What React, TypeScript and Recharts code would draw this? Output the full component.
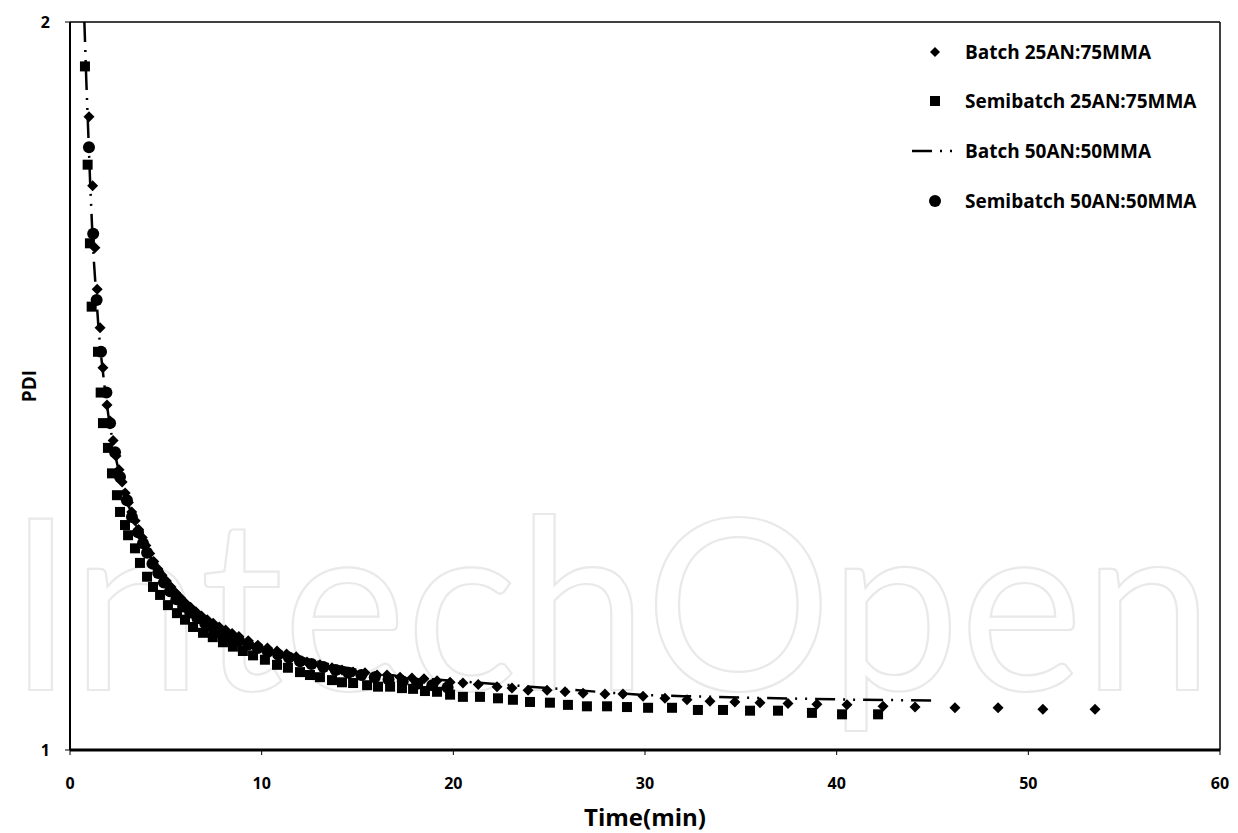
import React from 'react';
import { ComposedChart, Scatter, XAxis, YAxis, ReferenceLine, Legend, Label } from 'recharts';

const FONT = '"Open Sans", Lato, sans-serif';

// Batch 25AN:75MMA (diamonds)
const batch25X = [0.99, 1.18, 1.30, 1.42, 1.57, 1.72, 1.93, 2.09, 2.25, 2.40, 2.56, 2.72, 2.88, 3.05, 3.22, 3.40, 3.58, 3.77, 3.96, 4.16, 4.37, 4.58, 4.80, 5.03, 5.27, 5.51, 5.76, 6.02, 6.29, 6.57, 6.86, 7.16, 7.47, 7.79, 8.12, 8.46, 8.81, 9.30, 9.80, 10.30, 10.80, 11.30, 11.80, 12.37, 13.04, 13.67, 14.19, 14.77, 15.39, 16.02, 16.54, 17.22, 17.84, 18.47, 19.15, 19.83, 20.50, 21.30, 22.28, 23.06, 23.90, 24.89, 25.83, 26.77, 27.91, 28.85, 29.90, 31.04, 32.19, 33.39, 34.69, 36.00, 37.46, 38.97, 40.54, 42.42, 44.09, 46.17, 48.42, 50.76, 53.48];
const batch25Y = [1.870, 1.775, 1.690, 1.633, 1.580, 1.525, 1.474, 1.452, 1.425, 1.404, 1.385, 1.368, 1.353, 1.340, 1.327, 1.315, 1.303, 1.292, 1.281, 1.270, 1.259, 1.249, 1.240, 1.232, 1.224, 1.216, 1.209, 1.202, 1.196, 1.190, 1.184, 1.179, 1.174, 1.169, 1.165, 1.160, 1.156, 1.150, 1.144, 1.140, 1.136, 1.132, 1.128, 1.121, 1.117, 1.113, 1.110, 1.107, 1.106, 1.103, 1.103, 1.100, 1.099, 1.098, 1.095, 1.093, 1.092, 1.090, 1.087, 1.085, 1.082, 1.082, 1.080, 1.078, 1.077, 1.077, 1.074, 1.071, 1.069, 1.067, 1.066, 1.065, 1.064, 1.063, 1.062, 1.060, 1.059, 1.058, 1.058, 1.056, 1.056];

// Semibatch 25AN:75MMA (squares)
const semi25X = [0.78, 0.92, 1.04, 1.13, 1.46, 1.60, 1.72, 1.98, 2.19, 2.45, 2.61, 2.87, 3.03, 3.39, 3.65, 4.02, 4.33, 4.70, 5.11, 5.58, 6.00, 6.42, 6.94, 7.45, 7.98, 8.50, 9.02, 9.55, 10.17, 10.80, 11.37, 12.00, 12.52, 13.04, 13.67, 14.19, 14.77, 15.50, 16.07, 16.70, 17.32, 17.90, 18.52, 19.15, 19.83, 20.50, 21.39, 22.33, 23.11, 24.00, 25.04, 25.98, 26.97, 28.02, 29.06, 30.16, 31.41, 32.76, 34.07, 35.48, 36.94, 38.71, 40.28, 42.16];
const semi25Y = [1.939, 1.804, 1.696, 1.609, 1.547, 1.491, 1.449, 1.415, 1.380, 1.350, 1.327, 1.309, 1.295, 1.277, 1.257, 1.238, 1.224, 1.213, 1.199, 1.188, 1.179, 1.169, 1.161, 1.155, 1.148, 1.142, 1.136, 1.130, 1.124, 1.117, 1.113, 1.107, 1.103, 1.100, 1.096, 1.093, 1.092, 1.089, 1.087, 1.087, 1.085, 1.084, 1.081, 1.080, 1.076, 1.073, 1.073, 1.071, 1.069, 1.066, 1.065, 1.062, 1.060, 1.060, 1.059, 1.058, 1.058, 1.055, 1.055, 1.054, 1.054, 1.051, 1.049, 1.049];

// Batch 50AN:50MMA (dash-dot line)
const batch50X = [0.75, 0.85, 0.95, 1.05, 1.15, 1.25, 1.38, 1.50, 1.65, 1.80, 2.00, 2.20, 2.40, 2.60, 2.80, 3.00, 3.25, 3.55, 4.00, 4.50, 5.00, 5.75, 6.60, 7.50, 8.40, 9.25, 10.10, 11.00, 12.00, 13.00, 14.00, 15.00, 16.00, 17.00, 18.00, 20.00, 22.00, 24.00, 26.00, 28.00, 30.00, 32.00, 35.00, 38.00, 41.00, 45.00];
const batch50Y = [2.000, 1.920, 1.850, 1.780, 1.720, 1.670, 1.620, 1.575, 1.535, 1.500, 1.460, 1.428, 1.400, 1.377, 1.357, 1.340, 1.322, 1.302, 1.276, 1.252, 1.232, 1.205, 1.184, 1.168, 1.157, 1.148, 1.141, 1.134, 1.127, 1.121, 1.115, 1.110, 1.106, 1.102, 1.099, 1.095, 1.091, 1.087, 1.083, 1.079, 1.0755, 1.074, 1.072, 1.0705, 1.069, 1.068];

// Semibatch 50AN:50MMA (circles)
const semi50X = [0.99, 1.21, 1.39, 1.62, 1.90, 2.09, 2.35, 2.61, 2.97, 3.23, 3.55, 3.81, 4.02, 4.30, 4.60, 4.90, 5.22, 5.55, 5.90, 6.27, 6.65, 7.05, 7.47, 7.90, 8.35, 8.82, 9.30, 9.80, 10.32, 10.86, 11.42, 12.00, 12.60, 13.22, 13.86, 14.52, 15.20, 15.90, 16.62, 17.36, 18.12, 18.90, 19.70];
const semi50Y = [1.828, 1.709, 1.618, 1.547, 1.491, 1.449, 1.409, 1.375, 1.343, 1.320, 1.299, 1.284, 1.271, 1.256, 1.243, 1.230, 1.218, 1.207, 1.197, 1.189, 1.181, 1.174, 1.167, 1.160, 1.155, 1.150, 1.145, 1.140, 1.135, 1.131, 1.127, 1.122, 1.118, 1.114, 1.110, 1.106, 1.103, 1.100, 1.097, 1.094, 1.091, 1.089, 1.086];

const seriesNames = ['Batch 25AN:75MMA', 'Semibatch 25AN:75MMA', 'Batch 50AN:50MMA', 'Semibatch 50AN:50MMA'];
const xTicks = [0, 10, 20, 30, 40, 50, 60];
const yTicks = [1, 2];
const xTitle = 'Time(min)';
const yTitle = 'PDI';
const watermark = 'IntechOpen';

const zip = (xs: number[], ys: number[]) => xs.map((x, i) => ({ x, y: ys[i] }));
const batch25 = zip(batch25X, batch25Y);
const semi25 = zip(semi25X, semi25Y);
const batch50 = zip(batch50X, batch50Y);
const semi50 = zip(semi50X, semi50Y);

const DASH = '20 8 2 8 2 8';

const Diamond = (p: any) => {
  const { cx, cy } = p;
  const r = 5.5;
  return <polygon points={`${cx},${cy - r} ${cx + r},${cy} ${cx},${cy + r} ${cx - r},${cy}`} fill="#000" />;
};
const Square = (p: any) => <rect x={p.cx - 5} y={p.cy - 5} width={10} height={10} fill="#000" />;
const Dot = (p: any) => <circle cx={p.cx} cy={p.cy} r={6} fill="#000" />;
const Nothing = () => <g />;

const LegendBox = () => {
  const rows = [14, 63, 113, 163];
  const mx = 32;
  const tx = 62;
  const textStyle = { fontFamily: FONT, fontWeight: 700, fontSize: 19, fill: '#000' } as any;
  return (
    <svg width={330} height={190} style={{ display: 'block' }}>
      <polygon points={`${mx},${rows[0] - 5} ${mx + 5},${rows[0]} ${mx},${rows[0] + 5} ${mx - 5},${rows[0]}`} fill="#000" />
      <rect x={mx - 5} y={rows[1] - 5} width={10} height={10} fill="#000" />
      <line x1={9} x2={53} y1={rows[2]} y2={rows[2]} stroke="#000" strokeWidth={2.5} strokeDasharray={DASH} />
      <circle cx={mx} cy={rows[3]} r={6} fill="#000" />
      {seriesNames.map((n, i) => (
        <text key={n} x={tx} y={rows[i]} dy="0.36em" style={textStyle}>{n}</text>
      ))}
    </svg>
  );
};

export default function App() {
  const tickStyle = { fill: '#000', fontSize: 16, fontWeight: 700, fontFamily: FONT };
  return (
    <div style={{ position: 'absolute', left: 0, top: 0, width: 1238, height: 833, background: '#fff' }}>
      <svg width={1238} height={833} style={{ position: 'absolute', left: 0, top: 0 }}>
        <g transform="translate(8,690) scale(1,1.12)">
          <text x={0} y={0} textLength={1205} lengthAdjust="spacingAndGlyphs" style={{ fontFamily: 'Lato, sans-serif', fontWeight: 400, fontSize: 214, fill: 'none', stroke: '#e9e9e9', strokeWidth: 2 }}>{watermark}</text>
        </g>
      </svg>
      <div style={{ position: 'absolute', left: 0, top: 0 }}>
        <ComposedChart width={1238} height={833} margin={{ top: 22, right: 18, bottom: 0, left: 0 }}>
          <XAxis
            type="number"
            dataKey="x"
            domain={[0, 60]}
            ticks={xTicks}
            allowDataOverflow
            height={83}
            tickSize={5}
            tickMargin={23}
            tick={tickStyle}
            axisLine={{ stroke: '#000', strokeWidth: 3 }}
            tickLine={{ stroke: '#000', strokeWidth: 1 }}
          >
            <Label
              content={(props: any) => {
                const vb = props.viewBox;
                return (
                  <text x={vb.x + vb.width / 2} y={826} textAnchor="middle" style={{ fontFamily: FONT, fontWeight: 700, fontSize: 24, fill: '#000' }}>{xTitle}</text>
                );
              }}
            />
          </XAxis>
          <YAxis
            type="number"
            dataKey="y"
            domain={[1, 2]}
            ticks={yTicks}
            allowDataOverflow
            width={70}
            tickSize={5}
            tickMargin={15}
            tick={tickStyle}
            axisLine={{ stroke: '#000', strokeWidth: 2 }}
            tickLine={{ stroke: '#000', strokeWidth: 1 }}
          >
            <Label
              content={(props: any) => {
                const vb = props.viewBox;
                const cx = 29;
                const cy = vb.y + vb.height / 2;
                return (
                  <text x={cx} y={cy} textAnchor="middle" dominantBaseline="central" transform={`rotate(-90 ${cx} ${cy})`} style={{ fontFamily: FONT, fontWeight: 700, fontSize: 19, fill: '#000' }}>{yTitle}</text>
                );
              }}
            />
          </YAxis>
          <ReferenceLine y={2} stroke="#000" strokeWidth={1.5} />
          <ReferenceLine x={60} stroke="#000" strokeWidth={1.5} />
          <Scatter name={seriesNames[2]} data={batch50} fill="#000" line={{ stroke: '#000', strokeWidth: 2.5, strokeDasharray: DASH }} lineType="joint" shape={Nothing} isAnimationActive={false} />
          <Scatter name={seriesNames[3]} data={semi50} fill="#000" shape={Dot} isAnimationActive={false} />
          <Scatter name={seriesNames[1]} data={semi25} fill="#000" shape={Square} isAnimationActive={false} />
          <Scatter name={seriesNames[0]} data={batch25} fill="#000" shape={Diamond} isAnimationActive={false} />
          <Legend
            layout="vertical"
            align="center"
            verticalAlign="middle"
            wrapperStyle={{ left: 903, top: 38, width: 330, height: 190 }}
            content={() => <LegendBox />}
          />
        </ComposedChart>
      </div>
    </div>
  );
}
